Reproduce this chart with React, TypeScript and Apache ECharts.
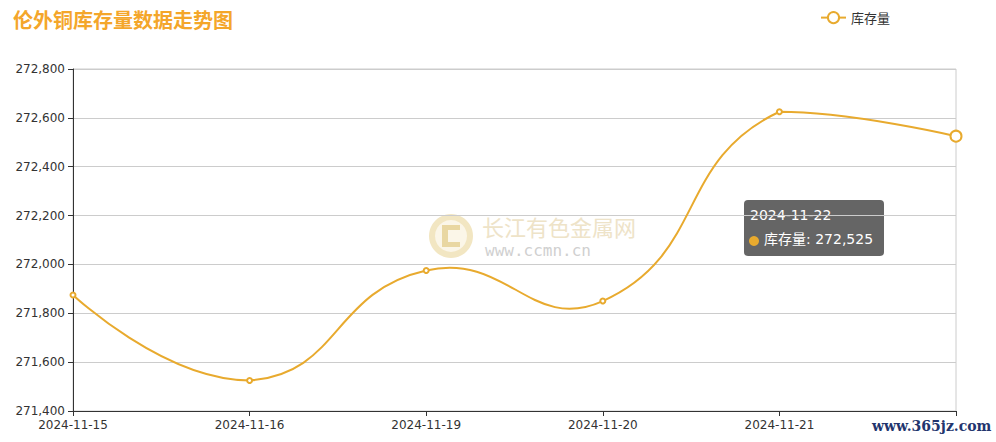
import React, { useEffect, useRef } from "react";
import * as echarts from "echarts";

const categories = ["2024-11-15", "2024-11-16", "2024-11-19", "2024-11-20", "2024-11-21", "2024-11-22"];
const stockValues = [271875, 271525, 271975, 271850, 272625, 272525];
const seriesName = "库存量";
const titleText = "伦外铜库存量数据走势图";
const lineColor = "#E8AA2E";
const axisFont = "DejaVu Sans";

// Smooth curve built from points given by the chart's own coordinate system
function smoothPath(pts: number[][], smooth: number): string {
  let minX = Infinity, minY = Infinity, maxX = -Infinity, maxY = -Infinity;
  pts.forEach((p) => {
    minX = Math.min(minX, p[0]); maxX = Math.max(maxX, p[0]);
    minY = Math.min(minY, p[1]); maxY = Math.max(maxY, p[1]);
  });
  const clamp = (c: number[]) => [Math.min(Math.max(c[0], minX), maxX), Math.min(Math.max(c[1], minY), maxY)];
  let d = `M${pts[0][0]},${pts[0][1]}`;
  let cp0 = [pts[0][0], pts[0][1]];
  for (let i = 1; i < pts.length; i++) {
    const p = pts[i];
    const prev = pts[i - 1];
    const next = pts[i + 1];
    let cp1 = [p[0], p[1]];
    let ratio = 0.5;
    let v = [0, 0];
    if (next) {
      v = [next[0] - prev[0], next[1] - prev[1]];
      const l0 = Math.hypot(p[0] - prev[0], p[1] - prev[1]);
      const l1 = Math.hypot(next[0] - p[0], next[1] - p[1]);
      ratio = l1 / (l0 + l1);
      cp1 = [p[0] - v[0] * smooth * (1 - ratio), p[1] - v[1] * smooth * (1 - ratio)];
    }
    const a = clamp(cp0);
    const b = clamp(cp1);
    d += ` C${a[0]},${a[1]} ${b[0]},${b[1]} ${p[0]},${p[1]}`;
    cp0 = [p[0] + v[0] * smooth * ratio, p[1] + v[1] * smooth * ratio];
  }
  return d;
}

export default function App() {
  const ref = useRef<HTMLDivElement>(null);
  useEffect(() => {
    if (!ref.current) return;
    const chart = echarts.init(ref.current, null, { renderer: "svg" });
    const lastIdx = stockValues.length - 1;
    const lastVal = stockValues[lastIdx];
    const data = stockValues.map((v, i) =>
      i === lastIdx ? { value: v, symbolSize: 11 } : { value: v }
    );
    chart.setOption({
      animation: false,
      title: {
        text: titleText,
        left: 8,
        top: 4,
        textStyle: { color: "#F4A62A", fontSize: 20, fontWeight: "bold", fontFamily: "Noto Sans CJK SC" },
      },
      legend: {
        data: [seriesName],
        top: 6,
        left: 815,
        itemWidth: 25,
        itemHeight: 14,
        lineStyle: { opacity: 1, width: 2, color: lineColor },
        textStyle: { color: "#333", fontSize: 13, fontFamily: "Noto Sans CJK SC" },
      },
      grid: { left: 73, right: 40, top: 69, bottom: 31, show: true, borderColor: "#ccc", borderWidth: 1 },
      xAxis: {
        type: "category",
        data: categories,
        boundaryGap: false,
        axisLine: { lineStyle: { color: "#333" } },
        axisTick: { show: true, alignWithLabel: true, interval: 0 },
        axisLabel: {
          color: "#333",
          fontSize: 12,
          fontFamily: axisFont,
          margin: 8,
          interval: (index: number) => index !== lastIdx,
        },
      },
      yAxis: {
        type: "value",
        min: 271400,
        max: 272800,
        interval: 200,
        axisLine: { show: true, lineStyle: { color: "#333" } },
        axisTick: { show: true },
        axisLabel: { color: "#333", fontSize: 12, fontFamily: axisFont },
        splitLine: { lineStyle: { color: "#ccc" } },
      },
      graphic: [
        {
          type: "group",
          left: 429,
          top: 214,
          silent: true,
          children: [
            { type: "circle", shape: { cx: 23, cy: 23, r: 22 }, style: { fill: "#F2E6C2" } },
            { type: "circle", shape: { cx: 23, cy: 23, r: 16 }, style: { fill: "#FBF6E8" } },
            { type: "rect", shape: { x: 14, y: 12, width: 18, height: 22 }, style: { fill: "#E9D7A2" } },
            { type: "rect", shape: { x: 20, y: 17, width: 12, height: 12 }, style: { fill: "#FBF6E8" } },
            {
              type: "text",
              x: 54,
              y: 2,
              style: { text: "长江有色金属网", fontSize: 22, fill: "#EEE3C8", fontFamily: "Noto Sans CJK SC" },
            },
            {
              type: "text",
              x: 57,
              y: 29,
              style: { text: "www.ccmn.cn", fontSize: 16, fill: "#D0D0D0", fontFamily: "DejaVu Sans Mono", letterSpacing: 4 },
            },
          ],
        },
        {
          type: "group",
          left: 744,
          top: 200,
          silent: true,
          z: 50,
          children: [
            { type: "rect", shape: { x: 0, y: 0, width: 140, height: 56, r: 4 }, style: { fill: "rgba(50,50,50,0.75)" } },
            {
              type: "text",
              x: 6,
              y: 8,
              style: { text: categories[lastIdx], fontSize: 14, fill: "#fff", fontFamily: "DejaVu Sans, Noto Sans CJK SC" },
            },
            { type: "circle", shape: { cx: 10, cy: 41, r: 5 }, style: { fill: lineColor } },
            {
              type: "text",
              x: 20,
              y: 32,
              style: {
                text: seriesName + ": " + lastVal.toLocaleString("en-US"),
                fontSize: 14,
                fill: "#fff",
                fontFamily: "DejaVu Sans, Noto Sans CJK SC",
              },
            },
          ],
        },
        {
          type: "text",
          left: 872,
          top: 419,
          z: 100,
          style: {
            text: "www.365jz.com",
            fontSize: 14,
            fill: "#22356E",
            fontFamily: "DejaVu Serif",
            fontWeight: "bold",
          },
        },
      ],
      series: [
        {
          name: "curve",
          type: "custom",
          z: 2,
          silent: true,
          data: [0],
          renderItem: (params: any, api: any) => {
            const pts = stockValues.map((v, i) => api.coord([i, v]));
            return {
              type: "path",
              shape: { pathData: smoothPath(pts, 0.5) },
              style: { stroke: lineColor, fill: "none", lineWidth: 2 },
            };
          },
        },
        {
          name: seriesName,
          type: "line",
          z: 3,
          symbol: "emptyCircle",
          symbolSize: 5,
          data,
          itemStyle: { color: lineColor },
          lineStyle: { color: lineColor, width: 2, opacity: 0 },
        },
      ],
    });
    return () => chart.dispose();
  }, []);
  return <div ref={ref} style={{ width: 996, height: 442, position: "absolute", left: 0, top: 0 }} />;
}
